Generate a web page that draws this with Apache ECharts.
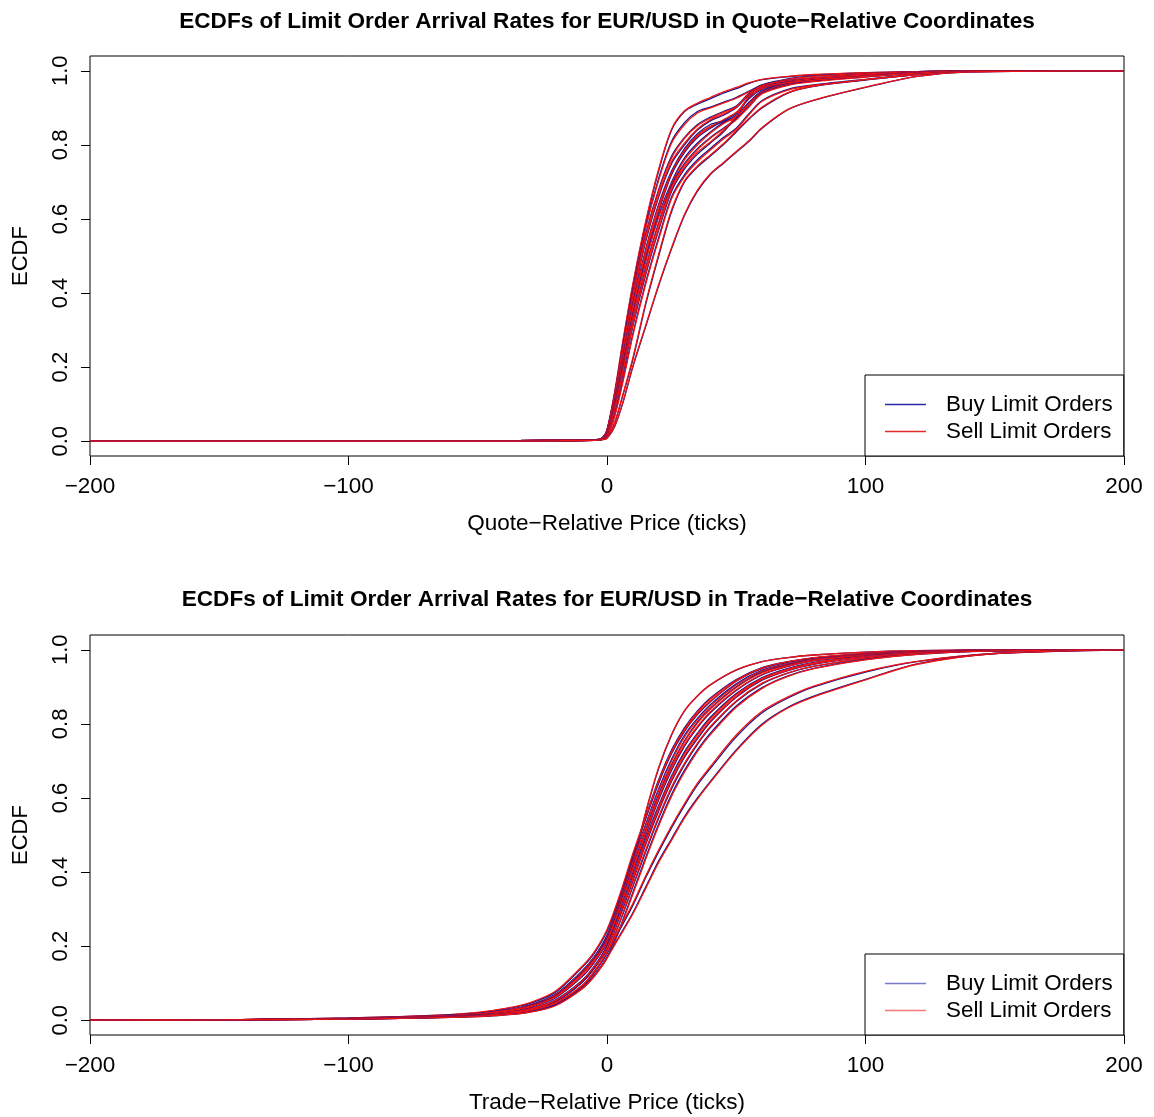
<!DOCTYPE html>
<html>
<head>
<meta charset="utf-8">
<title>ECDFs of Limit Order Arrival Rates for EUR/USD</title>
<script src="https://cdn.jsdelivr.net/npm/echarts@6/dist/echarts.min.js"></script>
<style>
  html, body { margin: 0; padding: 0; background: #ffffff; }
  #chart { width: 1154px; height: 1117px; }
</style>
</head>
<body>
<div id="chart"></div>
<script>
// Price grid (ticks) at which the quote-relative ECDFs are sampled
const xQuote = [-200, -100, -50, -20, -5, -2, 0, 3, 6, 10, 15, 20, 25, 30, 35, 40, 45, 50, 55, 60, 70, 80, 100, 120, 140, 200];

// Quote-relative ECDFs, one row per day: buy side
const quoteBuy = [
  [0,0,0.001,0.002,0.004,0.008,0.030,0.130,0.260,0.420,0.590,0.730,0.840,0.890,0.910,0.925,0.940,0.952,0.966,0.976,0.984,0.989,0.995,0.998,1,1],
  [0,0,0.001,0.002,0.004,0.008,0.028,0.120,0.250,0.410,0.580,0.710,0.810,0.860,0.890,0.902,0.915,0.928,0.945,0.962,0.978,0.986,0.993,0.998,1,1],
  [0,0,0.001,0.002,0.004,0.007,0.030,0.130,0.250,0.400,0.560,0.680,0.770,0.820,0.855,0.875,0.890,0.905,0.940,0.962,0.974,0.981,0.991,0.997,1,1],
  [0,0,0.001,0.002,0.003,0.007,0.025,0.120,0.230,0.380,0.540,0.660,0.750,0.800,0.840,0.865,0.880,0.900,0.935,0.958,0.972,0.980,0.990,0.997,1,1],
  [0,0,0.001,0.002,0.003,0.006,0.022,0.110,0.220,0.370,0.520,0.640,0.730,0.790,0.830,0.855,0.865,0.875,0.915,0.945,0.970,0.978,0.988,0.996,0.999,1],
  [0,0,0.001,0.002,0.003,0.006,0.020,0.100,0.210,0.350,0.500,0.620,0.720,0.780,0.820,0.845,0.865,0.885,0.925,0.950,0.968,0.977,0.987,0.995,0.999,1],
  [0,0,0.001,0.002,0.003,0.006,0.018,0.095,0.200,0.340,0.490,0.610,0.700,0.765,0.805,0.835,0.860,0.880,0.915,0.945,0.965,0.975,0.986,0.995,0.999,1],
  [0,0,0.001,0.002,0.003,0.005,0.016,0.090,0.190,0.320,0.470,0.590,0.690,0.750,0.790,0.820,0.845,0.870,0.905,0.940,0.962,0.972,0.984,0.994,0.999,1],
  [0,0,0,0.001,0.003,0.005,0.014,0.080,0.175,0.310,0.450,0.570,0.675,0.735,0.775,0.805,0.835,0.875,0.930,0.955,0.968,0.975,0.985,0.994,0.999,1],
  [0,0,0,0.001,0.002,0.005,0.012,0.070,0.160,0.290,0.430,0.550,0.660,0.720,0.760,0.790,0.820,0.845,0.885,0.920,0.950,0.962,0.977,0.990,0.998,1],
  [0,0,0,0.001,0.002,0.004,0.010,0.050,0.120,0.220,0.370,0.500,0.620,0.700,0.740,0.770,0.800,0.835,0.870,0.900,0.940,0.958,0.975,0.990,0.998,1],
  [0,0,0,0.001,0.002,0.004,0.008,0.040,0.100,0.200,0.310,0.420,0.520,0.610,0.675,0.720,0.750,0.780,0.810,0.845,0.895,0.920,0.955,0.985,0.997,1]
];

// Quote-relative ECDFs: sell side
const quoteSell = [
  [0,0,0.001,0.002,0.004,0.008,0.031,0.135,0.265,0.425,0.595,0.735,0.843,0.892,0.913,0.928,0.943,0.955,0.968,0.977,0.985,0.990,0.995,0.998,1,1],
  [0,0,0.001,0.002,0.004,0.008,0.027,0.118,0.245,0.405,0.575,0.705,0.805,0.855,0.886,0.900,0.913,0.926,0.944,0.960,0.977,0.985,0.993,0.998,1,1],
  [0,0,0.001,0.002,0.004,0.007,0.029,0.127,0.245,0.395,0.555,0.675,0.765,0.818,0.852,0.872,0.888,0.903,0.937,0.960,0.973,0.980,0.990,0.997,1,1],
  [0,0,0.001,0.002,0.003,0.007,0.026,0.122,0.235,0.385,0.545,0.665,0.755,0.805,0.843,0.868,0.883,0.902,0.938,0.960,0.973,0.981,0.991,0.997,1,1],
  [0,0,0.001,0.002,0.003,0.006,0.021,0.105,0.215,0.365,0.515,0.635,0.725,0.785,0.826,0.850,0.862,0.872,0.910,0.942,0.968,0.977,0.988,0.996,0.999,1],
  [0,0,0.001,0.002,0.003,0.006,0.020,0.102,0.212,0.355,0.505,0.625,0.725,0.784,0.823,0.848,0.868,0.888,0.928,0.952,0.969,0.978,0.988,0.995,0.999,1],
  [0,0,0.001,0.002,0.003,0.006,0.017,0.092,0.195,0.335,0.485,0.605,0.695,0.760,0.800,0.832,0.857,0.877,0.912,0.943,0.964,0.974,0.986,0.995,0.999,1],
  [0,0,0.001,0.002,0.003,0.005,0.016,0.088,0.187,0.317,0.466,0.586,0.686,0.746,0.787,0.818,0.843,0.868,0.903,0.938,0.961,0.971,0.983,0.994,0.999,1],
  [0,0,0,0.001,0.003,0.005,0.015,0.083,0.180,0.315,0.455,0.575,0.680,0.740,0.780,0.808,0.838,0.878,0.932,0.956,0.968,0.975,0.985,0.994,0.999,1],
  [0,0,0,0.001,0.002,0.005,0.012,0.068,0.155,0.285,0.425,0.545,0.655,0.715,0.755,0.786,0.816,0.842,0.882,0.918,0.948,0.961,0.976,0.990,0.998,1],
  [0,0,0,0.001,0.002,0.004,0.010,0.052,0.123,0.225,0.375,0.505,0.625,0.703,0.743,0.773,0.803,0.838,0.872,0.902,0.941,0.959,0.976,0.990,0.998,1],
  [0,0,0,0.001,0.002,0.004,0.008,0.041,0.102,0.203,0.313,0.423,0.523,0.613,0.678,0.722,0.752,0.782,0.812,0.847,0.896,0.921,0.956,0.985,0.997,1]
];

// Price grid (ticks) at which the trade-relative ECDFs are sampled
const xTrade = [-200, -150, -100, -70, -50, -40, -30, -20, -10, -5, 0, 5, 10, 15, 20, 25, 30, 35, 40, 50, 60, 70, 80, 100, 120, 150, 200];

// Trade-relative ECDFs: buy side
const tradeBuy = [
  [0,0.001,0.004,0.008,0.013,0.018,0.028,0.050,0.100,0.140,0.200,0.300,0.420,0.560,0.680,0.770,0.835,0.875,0.905,0.945,0.968,0.979,0.986,0.994,0.998,1,1],
  [0,0.001,0.005,0.010,0.017,0.025,0.040,0.068,0.130,0.170,0.230,0.330,0.440,0.550,0.650,0.730,0.790,0.835,0.870,0.920,0.952,0.968,0.978,0.990,0.996,0.999,1],
  [0,0.001,0.006,0.012,0.020,0.030,0.045,0.075,0.140,0.180,0.240,0.335,0.445,0.545,0.640,0.720,0.780,0.825,0.860,0.915,0.950,0.967,0.978,0.989,0.996,0.999,1],
  [0,0.001,0.005,0.011,0.018,0.027,0.041,0.070,0.130,0.170,0.225,0.320,0.430,0.530,0.625,0.705,0.770,0.815,0.852,0.908,0.945,0.963,0.975,0.988,0.995,0.999,1],
  [0,0.001,0.005,0.010,0.017,0.025,0.038,0.065,0.125,0.165,0.220,0.310,0.415,0.515,0.610,0.690,0.755,0.805,0.842,0.900,0.940,0.960,0.973,0.987,0.995,0.999,1],
  [0,0.001,0.004,0.009,0.015,0.022,0.034,0.060,0.115,0.155,0.210,0.300,0.400,0.500,0.595,0.675,0.740,0.790,0.830,0.890,0.932,0.955,0.970,0.985,0.994,0.998,1],
  [0,0.001,0.004,0.008,0.014,0.020,0.031,0.055,0.105,0.145,0.200,0.290,0.390,0.490,0.580,0.660,0.725,0.775,0.818,0.882,0.925,0.950,0.966,0.983,0.993,0.998,1],
  [0,0.001,0.004,0.008,0.013,0.019,0.029,0.051,0.100,0.140,0.190,0.280,0.375,0.475,0.565,0.645,0.710,0.760,0.805,0.872,0.918,0.944,0.961,0.980,0.992,0.998,1],
  [0,0.001,0.003,0.007,0.012,0.017,0.026,0.046,0.090,0.130,0.180,0.265,0.360,0.455,0.545,0.625,0.690,0.745,0.790,0.860,0.908,0.937,0.955,0.977,0.990,0.997,1],
  [0,0.001,0.003,0.006,0.011,0.016,0.024,0.042,0.085,0.120,0.170,0.250,0.345,0.440,0.530,0.610,0.675,0.730,0.775,0.848,0.898,0.930,0.950,0.974,0.988,0.997,1],
  [0,0.001,0.003,0.007,0.011,0.015,0.024,0.043,0.088,0.127,0.180,0.245,0.310,0.385,0.455,0.520,0.580,0.635,0.680,0.765,0.830,0.870,0.900,0.940,0.968,0.990,1],
  [0,0.001,0.003,0.006,0.010,0.014,0.022,0.040,0.085,0.120,0.170,0.230,0.290,0.360,0.430,0.490,0.550,0.600,0.645,0.730,0.800,0.845,0.875,0.920,0.962,0.990,1]
];

// Trade-relative ECDFs: sell side
const tradeSell = [
  [0,0.001,0.004,0.008,0.014,0.019,0.029,0.052,0.103,0.143,0.203,0.305,0.425,0.563,0.683,0.772,0.836,0.876,0.906,0.946,0.968,0.979,0.986,0.994,0.998,1,1],
  [0,0.001,0.005,0.010,0.016,0.024,0.038,0.066,0.127,0.167,0.227,0.326,0.435,0.545,0.645,0.726,0.786,0.832,0.867,0.918,0.950,0.967,0.977,0.989,0.996,0.999,1],
  [0,0.001,0.006,0.012,0.021,0.031,0.047,0.078,0.143,0.184,0.245,0.340,0.450,0.550,0.645,0.724,0.783,0.828,0.862,0.916,0.951,0.968,0.979,0.990,0.996,0.999,1],
  [0,0.001,0.005,0.010,0.017,0.026,0.039,0.068,0.128,0.168,0.222,0.316,0.425,0.525,0.620,0.700,0.765,0.811,0.848,0.905,0.943,0.962,0.974,0.988,0.995,0.999,1],
  [0,0.001,0.005,0.010,0.017,0.025,0.037,0.064,0.123,0.162,0.216,0.305,0.410,0.510,0.605,0.686,0.752,0.802,0.840,0.898,0.938,0.958,0.972,0.986,0.995,0.999,1],
  [0,0.001,0.004,0.009,0.016,0.023,0.035,0.062,0.118,0.158,0.213,0.304,0.405,0.505,0.600,0.680,0.744,0.793,0.833,0.892,0.934,0.956,0.971,0.985,0.994,0.998,1],
  [0,0.001,0.004,0.008,0.013,0.019,0.030,0.053,0.102,0.142,0.196,0.285,0.385,0.485,0.575,0.655,0.720,0.771,0.814,0.879,0.923,0.948,0.965,0.982,0.993,0.998,1],
  [0,0.001,0.004,0.008,0.013,0.020,0.030,0.053,0.103,0.143,0.194,0.285,0.380,0.480,0.570,0.650,0.714,0.764,0.808,0.874,0.920,0.945,0.962,0.980,0.992,0.998,1],
  [0,0.001,0.003,0.007,0.012,0.017,0.027,0.047,0.092,0.132,0.183,0.268,0.364,0.460,0.550,0.630,0.694,0.748,0.793,0.862,0.910,0.938,0.956,0.977,0.990,0.997,1],
  [0,0.001,0.003,0.006,0.011,0.015,0.023,0.041,0.083,0.118,0.167,0.246,0.340,0.435,0.525,0.605,0.670,0.726,0.771,0.845,0.896,0.928,0.949,0.973,0.988,0.997,1],
  [0,0.001,0.003,0.007,0.011,0.016,0.025,0.045,0.090,0.130,0.183,0.250,0.315,0.390,0.460,0.525,0.585,0.640,0.685,0.770,0.834,0.873,0.902,0.942,0.969,0.990,1],
  [0,0.001,0.003,0.006,0.010,0.014,0.021,0.039,0.083,0.118,0.168,0.227,0.287,0.356,0.426,0.486,0.546,0.597,0.642,0.727,0.797,0.843,0.873,0.919,0.961,0.990,1]
];

// Axis tick values
const xTicks = [-200, -100, 0, 100, 200];
const yTicks = [0, 0.2, 0.4, 0.6, 0.8, 1.0];

const BUY = 'Buy Limit Orders';
const SELL = 'Sell Limit Orders';
const FONT = '"Liberation Sans", Arial, Helvetica, sans-serif';
const buyColor = '#16168e';
const sellColor = '#f21212';

const chart = echarts.init(document.getElementById('chart'), null, { renderer: 'canvas' });

const minus = v => String(v).replace('-', '\u2212');

// The plot box (grid border) already draws the axis edges, so only ticks and labels are added here
function xAxisFor(gridIndex, name) {
  return {
    gridIndex, type: 'value', min: -200, max: 200, interval: 100,
    name, nameLocation: 'middle', nameGap: 56,
    nameTextStyle: { fontFamily: FONT, fontSize: 22.5, color: '#000' },
    axisLine: { show: false, onZero: false },
    axisTick: { show: true, inside: false, length: 9, lineStyle: { color: '#000' } },
    axisLabel: { show: true, margin: 19, fontFamily: FONT, fontSize: 22.5, color: '#000',
                 customValues: xTicks, formatter: v => minus(v) },
    splitLine: { show: false }
  };
}

function yAxisFor(gridIndex) {
  return {
    gridIndex, type: 'value', min: -0.04, max: 1.04,
    name: 'ECDF', nameLocation: 'middle', nameGap: 58, nameRotate: 90,
    nameTextStyle: { fontFamily: FONT, fontSize: 22, color: '#000' },
    axisLine: { show: false, onZero: false },
    axisTick: { show: true, inside: false, length: 9, customValues: yTicks, lineStyle: { color: '#000' } },
    axisLabel: { show: true, rotate: 90, margin: 18, fontFamily: FONT, fontSize: 22, color: '#000',
                 customValues: yTicks, formatter: v => Number(v).toFixed(1) },
    splitLine: { show: false }
  };
}

function curves(xs, rows, name, color, gridIndex) {
  return rows.map(row => ({
    type: 'line', name, xAxisIndex: gridIndex, yAxisIndex: gridIndex,
    data: xs.map((x, i) => [x, row[i]]),
    smooth: 0.3, showSymbol: false, silent: true,
    lineStyle: { color, width: 1.3 }, itemStyle: { color },
    emphasis: { disabled: true }, z: 2
  }));
}

// Interleave each day's buy and sell curves so the sell line is drawn over its buy partner
function panelSeries(xs, buyRows, sellRows, gridIndex) {
  const buy = curves(xs, buyRows, BUY, buyColor, gridIndex);
  const sell = curves(xs, sellRows, SELL, sellColor, gridIndex);
  const out = [];
  for (let i = 0; i < buy.length; i++) { out.push(buy[i], sell[i]); }
  return out;
}

function legendFor(top, buyCol, sellCol) {
  return {
    show: true, orient: 'vertical', left: 865, top,
    padding: [16, 11, 11, 20], itemGap: 0,
    itemWidth: 41, itemHeight: 1.3, icon: 'rect',
    borderColor: '#000', borderWidth: 1, backgroundColor: '#fff',
    selectedMode: false, z: 5,
    textStyle: { fontFamily: FONT, fontSize: 22.4, color: '#000', lineHeight: 27, padding: [0, 0, 0, 15] },
    data: [
      { name: BUY, itemStyle: { color: buyCol } },
      { name: SELL, itemStyle: { color: sellCol } }
    ]
  };
}

const titleStyle = { fontFamily: FONT, fontSize: 22.6, fontWeight: 'bold', color: '#000' };

const option = {
  animation: false,
  backgroundColor: '#ffffff',
  title: [
    { text: 'ECDFs of Limit Order Arrival Rates for EUR/USD in Quote\u2212Relative Coordinates',
      left: 602, top: 5, textAlign: 'center', textStyle: titleStyle },
    { text: 'ECDFs of Limit Order Arrival Rates for EUR/USD in Trade\u2212Relative Coordinates',
      left: 602, top: 583, textAlign: 'center', textStyle: titleStyle }
  ],
  grid: [
    { left: 90, right: 30, top: 56, height: 400, show: true, borderColor: '#000', borderWidth: 1, backgroundColor: 'transparent' },
    { left: 90, right: 30, top: 635, height: 400, show: true, borderColor: '#000', borderWidth: 1, backgroundColor: 'transparent' }
  ],
  xAxis: [
    xAxisFor(0, 'Quote\u2212Relative Price (ticks)'),
    xAxisFor(1, 'Trade\u2212Relative Price (ticks)')
  ],
  yAxis: [yAxisFor(0), yAxisFor(1)],
  legend: [
    legendFor(375, '#2a2aa6', '#e52a2a'),
    legendFor(954, '#7a7acc', '#f77a7a')
  ],
  series: [
    ...panelSeries(xQuote, quoteBuy, quoteSell, 0),
    ...panelSeries(xTrade, tradeBuy, tradeSell, 1)
  ]
};

chart.setOption(option);
</script>
</body>
</html>
